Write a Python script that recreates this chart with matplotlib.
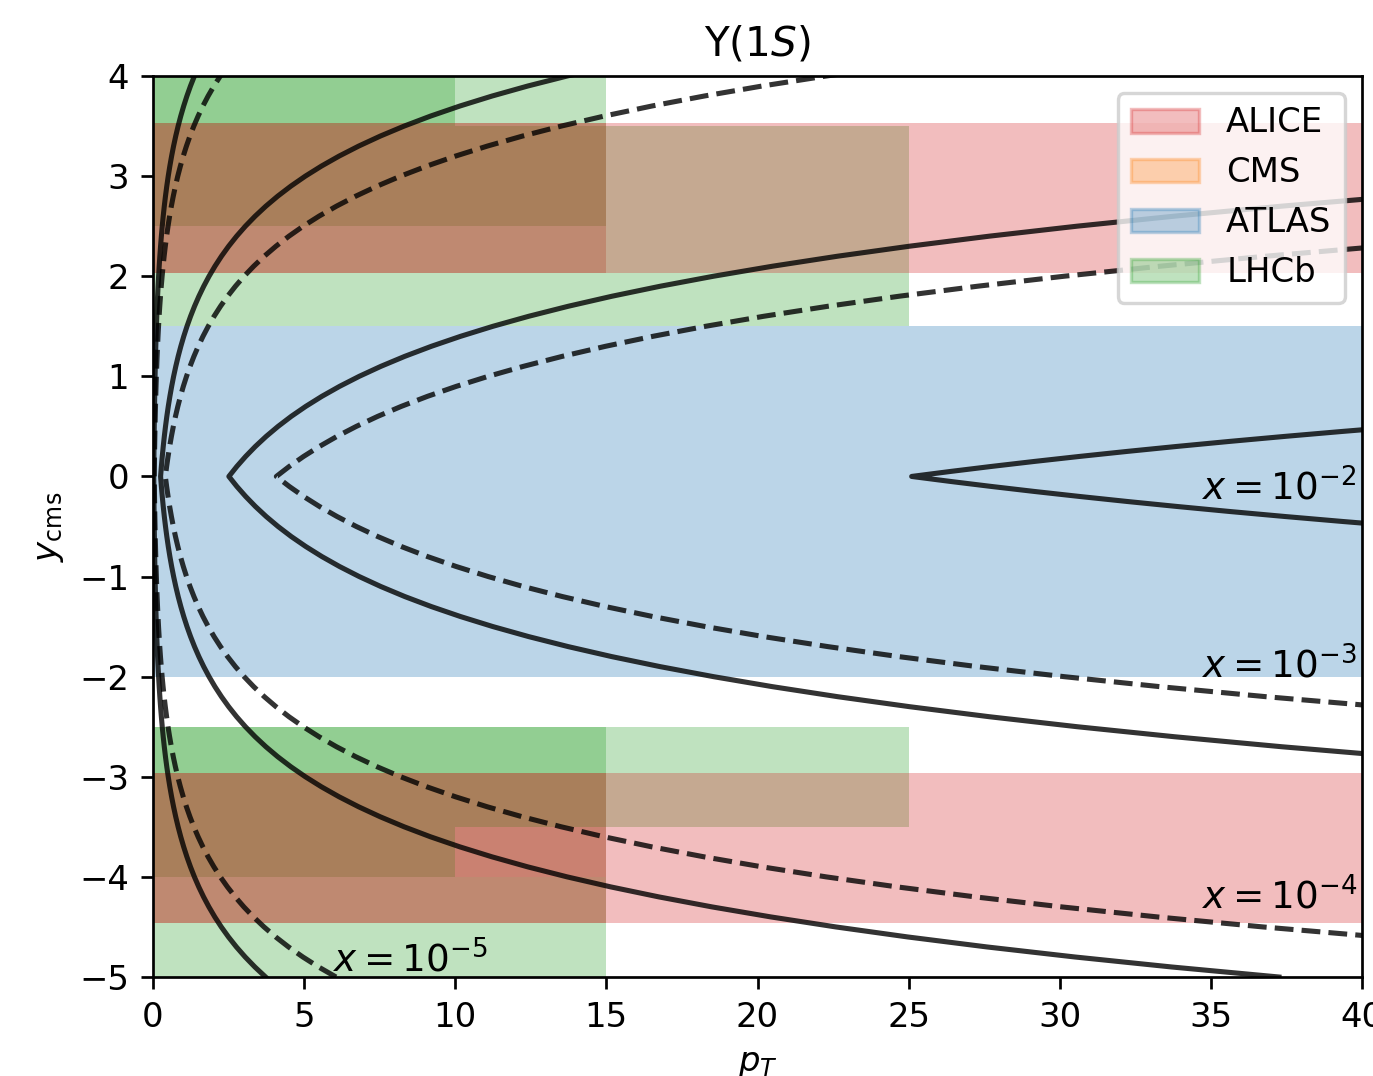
import matplotlib
matplotlib.use('Agg')
import matplotlib.pyplot as plt
from matplotlib.patches import Patch

# acceptance boxes: (pt_min, pt_max, y_min, y_max), listed in drawing order
lhcb_8 = [(0, 25, 2.5, 3.5), (15, 25, 1.5, 2.5), (0, 25, -3.5, -2.5), (0, 15, -4.0, -3.5)]
alice_8 = [(0, 40, 2.03, 3.53), (0, 40, -4.46, -2.96)]
lhcb_5 = [(0, 15, 1.5, 4.0), (0, 10, 3.5, 4.0), (0, 15, -3.5, -2.5),
          (0, 10, -4.0, -3.5), (0, 15, -5.0, -4.0)]
alice_5 = [(0, 15, 2.03, 3.53), (0, 15, -4.46, -2.96)]
atlas = [(0, 40, -2.0, 1.5)]
cms = []

# constant-x curves: one branch (|y| against pT)
y_grid = [0.0, 0.1, 0.2, 0.3, 0.4, 0.5, 0.6, 0.7, 0.8, 0.9,
          1.0, 1.1, 1.2, 1.3, 1.4, 1.5, 1.6, 1.7, 1.8, 1.9,
          2.0, 2.1, 2.2, 2.3, 2.4, 2.5, 2.6, 2.7, 2.8, 2.9,
          3.0, 3.1, 3.2, 3.3, 3.4, 3.5, 3.6, 3.7, 3.8, 3.9,
          4.0, 4.1, 4.2, 4.3, 4.4, 4.5, 4.6, 4.7, 4.8, 4.9, 5.0]
y_grid_x2 = [0.0, 0.05, 0.1, 0.15, 0.2, 0.25, 0.3, 0.35, 0.4, 0.45, 0.5]

# solid: sqrt(s) = 5.02 TeV
pt_5tev_x2 = [25.1, 26.387, 27.74, 29.162, 30.657, 32.229, 33.882, 35.619, 37.445,
              39.365, 41.38]
pt_5tev_x3 = [2.51, 2.774, 3.066, 3.388, 3.744, 4.138, 4.573, 5.055, 5.586, 6.174,
              6.823, 7.541, 8.333, 9.21, 10.179, 11.249, 12.432, 13.74, 15.184,
              16.782, 18.547, 20.497, 22.653, 25.035, 27.668, 30.578, 33.794,
              37.348, 41.276]
pt_5tev_x4 = [0.251, 0.2774, 0.3066, 0.3388, 0.3744, 0.4138, 0.4573, 0.5055,
              0.5586, 0.6174, 0.6823, 0.7541, 0.8333, 0.921, 1.0179, 1.1249,
              1.2432, 1.374, 1.5184, 1.6782, 1.8547, 2.0497, 2.2653, 2.5035,
              2.7668, 3.0578, 3.3794, 3.7348, 4.1276, 4.5617, 5.0415, 5.5717,
              6.1577, 6.8053, 7.521, 8.312, 9.1861, 10.152, 11.22, 12.4, 13.704,
              15.145, 16.738, 18.499, 20.444, 22.594, 24.971, 27.597, 30.499,
              33.707, 37.252]
pt_5tev_x5 = [0.0251, 0.02774, 0.03066, 0.03388, 0.03744, 0.04138, 0.04573,
              0.05055, 0.05586, 0.06174, 0.06823, 0.07541, 0.08333, 0.0921,
              0.10179, 0.11249, 0.12432, 0.1374, 0.15184, 0.16782, 0.18547,
              0.20497, 0.22653, 0.25035, 0.27668, 0.30578, 0.33794, 0.37348,
              0.41276, 0.45617, 0.50415, 0.55717, 0.61577, 0.68053, 0.7521,
              0.8312, 0.91861, 1.01523, 1.122, 1.24, 1.37041, 1.51454, 1.67383,
              1.84986, 2.04442, 2.25943, 2.49706, 2.75967, 3.04991, 3.37067,
              3.72517]

# dashed: sqrt(s) = 8.16 TeV
pt_8tev_x3 = [4.08, 4.509, 4.983, 5.508, 6.087, 6.727, 7.434, 8.216, 9.08, 10.035,
              11.091, 12.257, 13.546, 14.971, 16.545, 18.285, 20.208, 22.334,
              24.682, 27.278, 30.148, 33.318, 36.822, 40.695]
pt_8tev_x4 = [0.408, 0.4509, 0.4983, 0.5508, 0.6087, 0.6727, 0.7434, 0.8216,
              0.908, 1.0035, 1.1091, 1.2257, 1.3546, 1.4971, 1.6545, 1.8285,
              2.0208, 2.2334, 2.4682, 2.7278, 3.0148, 3.3318, 3.6822, 4.0695,
              4.4975, 4.9705, 5.4932, 6.0709, 6.7094, 7.415, 8.1949, 9.0568,
              10.009, 11.062, 12.225, 13.511, 14.932, 16.503, 18.238, 20.156,
              22.276, 24.619, 27.208, 30.07, 33.232, 36.727, 40.59]
pt_8tev_x5 = [0.0408, 0.04509, 0.04983, 0.05508, 0.06087, 0.06727, 0.07434,
              0.08216, 0.0908, 0.10035, 0.11091, 0.12257, 0.13546, 0.14971,
              0.16545, 0.18285, 0.20208, 0.22334, 0.24682, 0.27278, 0.30148,
              0.33318, 0.36822, 0.40695, 0.44975, 0.49705, 0.54932, 0.60709,
              0.67094, 0.7415, 0.81949, 0.90568, 1.00093, 1.10619, 1.22254,
              1.35111, 1.49321, 1.65025, 1.82381, 2.01562, 2.22761, 2.46188,
              2.7208, 3.00695, 3.3232, 3.6727, 4.05896, 4.48585, 4.95762,
              5.47902, 6.05526]

colors = {'ALICE': 'tab:red', 'CMS': 'tab:orange', 'ATLAS': 'tab:blue', 'LHCb': 'tab:green'}


def draw_boxes(ax, boxes, color):
    for pt_lo, pt_hi, y_lo, y_hi in boxes:
        ax.fill_between([pt_lo, pt_hi], y_lo, y_hi, color=color, alpha=0.3,
                        linewidth=0, zorder=1)


def draw_curve(ax, pts, ys, ls):
    # mirror the branch so the curve runs from -y through the vertex to +y
    x = pts[::-1] + pts[1:]
    y = [-v for v in ys[::-1]] + ys[1:]
    ax.plot(x, y, color='k', ls=ls, lw=1.5, alpha=0.8, zorder=3)


fig = plt.figure(figsize=(1373 / 244, 1076 / 244), dpi=244)
ax = fig.add_axes([153 / 1373, 1 - 977 / 1076, 1209 / 1373, 901 / 1076])

draw_boxes(ax, lhcb_8, colors['LHCb'])
draw_boxes(ax, alice_8, colors['ALICE'])
draw_boxes(ax, lhcb_5, colors['LHCb'])
draw_boxes(ax, alice_5, colors['ALICE'])
draw_boxes(ax, cms, colors['CMS'])
draw_boxes(ax, atlas, colors['ATLAS'])

draw_curve(ax, pt_5tev_x2, y_grid_x2, '-')
draw_curve(ax, pt_5tev_x3, y_grid[:len(pt_5tev_x3)], '-')
draw_curve(ax, pt_5tev_x4, y_grid[:len(pt_5tev_x4)], '-')
draw_curve(ax, pt_5tev_x5, y_grid[:len(pt_5tev_x5)], '-')
draw_curve(ax, pt_8tev_x3, y_grid[:len(pt_8tev_x3)], '--')
draw_curve(ax, pt_8tev_x4, y_grid[:len(pt_8tev_x4)], '--')
draw_curve(ax, pt_8tev_x5, y_grid[:len(pt_8tev_x5)], '--')

ax.text(34.7, -0.12, r'$x = 10^{-2}$', fontsize=11, va='center', zorder=4)
ax.text(34.7, -1.9, r'$x = 10^{-3}$', fontsize=11, va='center', zorder=4)
ax.text(34.7, -4.2, r'$x = 10^{-4}$', fontsize=11, va='center', zorder=4)
ax.text(5.95, -4.83, r'$x = 10^{-5}$', fontsize=11, va='center', zorder=4)

handles = [Patch(facecolor=colors[k], edgecolor=colors[k], alpha=0.3, label=k)
           for k in ['ALICE', 'CMS', 'ATLAS', 'LHCb']]
ax.legend(handles=handles, loc='upper right')

ax.set_xlim(0, 40)
ax.set_ylim(-5, 4)
ax.set_xlabel(r'$p_T$')
ax.set_ylabel(r'$y_{\rm cms}$')
ax.set_title(r'$\Upsilon(1S)$')

fig.savefig('out.png', dpi=244)
